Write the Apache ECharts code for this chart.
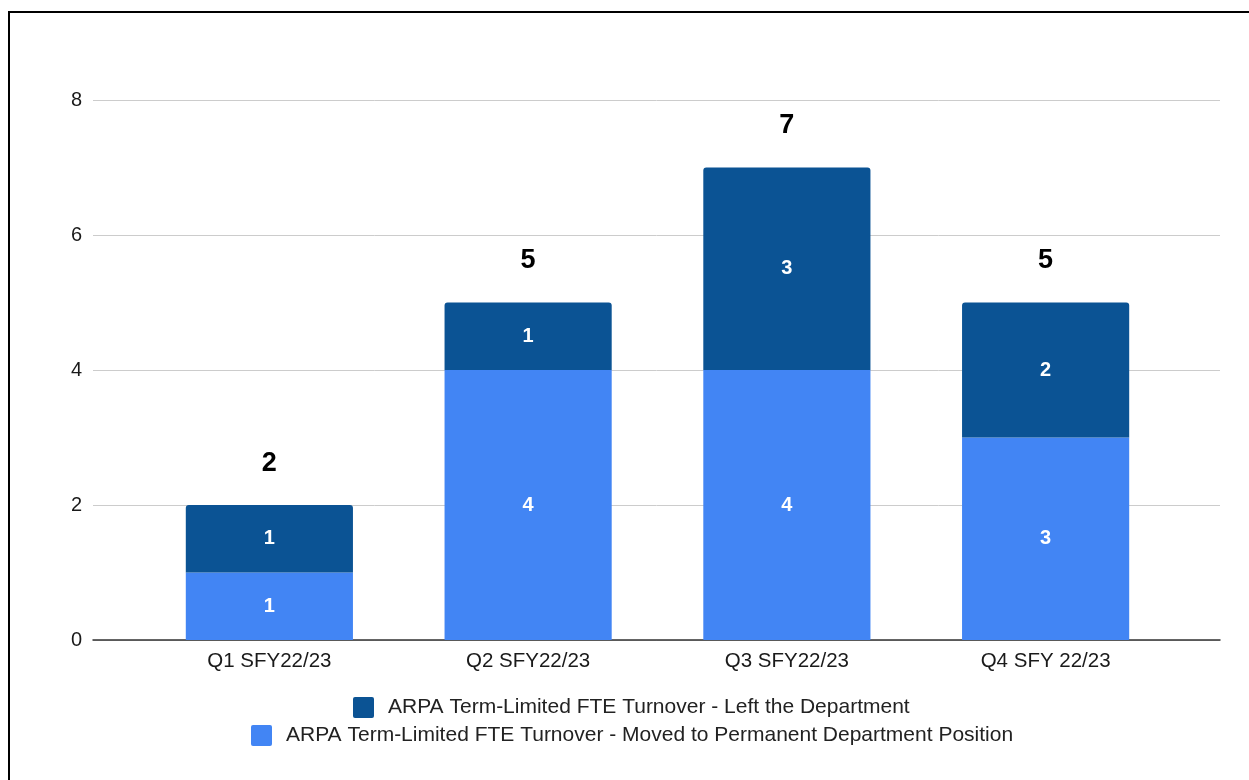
<!DOCTYPE html>
<html>
<head>
<meta charset="utf-8">
<script src="https://cdn.jsdelivr.net/npm/echarts@6/dist/echarts.min.js"></script>
<style>
  html, body { margin: 0; padding: 0; background: #fff; }
  #chart { width: 1249px; height: 780px; }
</style>
</head>
<body>
<div id="chart"></div>
<script>
const categories = ['Q1 SFY22/23', 'Q2 SFY22/23', 'Q3 SFY22/23', 'Q4 SFY 22/23'];
const movedValues = [1, 4, 4, 3];
const leftValues = [1, 1, 3, 2];
const totalLabels = [2, 5, 7, 5];
const yTicks = [0, 2, 4, 6, 8];
const nameLeft = 'ARPA Term-Limited FTE Turnover - Left the Department';
const nameMoved = 'ARPA Term-Limited FTE Turnover - Moved to Permanent Department Position';

const FONT = 'Arial, "Liberation Sans", sans-serif';
const ICON = 'path://M2,0 H19 Q21,0 21,2 V19 Q21,21 19,21 H2 Q0,21 0,19 V2 Q0,0 2,0 Z';
const chart = echarts.init(document.getElementById('chart'), null, { renderer: 'canvas' });

const option = {
  animation: false,
  backgroundColor: '#ffffff',
  graphic: [{
    type: 'rect',
    shape: { x: 9, y: 12, width: 1300, height: 900 },
    style: { fill: 'none', stroke: '#000000', lineWidth: 2 },
    silent: true
  }],
  grid: [
    { left: 93, right: 29, top: 100, bottom: 140 },
    { left: 140, right: 74, top: 100, bottom: 140 }
  ],
  xAxis: [
    {
      gridIndex: 0, type: 'value', min: 0, max: 1,
      axisLine: { show: true, lineStyle: { color: '#333333', width: 1.5 } },
      axisTick: { show: false }, axisLabel: { show: false }, splitLine: { show: false }
    },
    {
      gridIndex: 1, type: 'category', data: categories,
      axisLine: { show: false }, axisTick: { show: false },
      axisLabel: { color: '#1a1a1a', fontFamily: FONT, fontSize: 20.5, margin: 11 }
    }
  ],
  yAxis: [
    {
      gridIndex: 0, type: 'value', min: yTicks[0], max: yTicks[yTicks.length - 1], interval: 2,
      axisLine: { show: false }, axisTick: { show: false },
      axisLabel: { color: '#1a1a1a', fontFamily: FONT, fontSize: 20, margin: 11 },
      splitLine: { show: true, lineStyle: { color: '#cccccc', width: 1 } }
    },
    {
      gridIndex: 1, type: 'value', min: yTicks[0], max: yTicks[yTicks.length - 1], interval: 2,
      show: false, splitLine: { show: false }
    }
  ],
  legend: [
    {
      data: [nameLeft], left: 348, top: 692, itemWidth: 21, itemHeight: 21, icon: ICON,
      textStyle: { color: '#222222', fontFamily: FONT, fontSize: 21, padding: [0, 0, 0, 9] },
      selectedMode: false
    },
    {
      data: [nameMoved], left: 246, top: 720, itemWidth: 21, itemHeight: 21, icon: ICON,
      textStyle: { color: '#222222', fontFamily: FONT, fontSize: 21, padding: [0, 0, 0, 9] },
      selectedMode: false
    }
  ],
  series: [
    {
      name: nameMoved, type: 'bar', stack: 'total', xAxisIndex: 1, yAxisIndex: 1,
      data: movedValues, barWidth: '64.6%',
      itemStyle: { color: '#4285f4' },
      label: { show: true, position: 'inside', color: '#ffffff', fontWeight: 'bold', fontFamily: FONT, fontSize: 20 }
    },
    {
      name: nameLeft, type: 'bar', stack: 'total', xAxisIndex: 1, yAxisIndex: 1,
      data: leftValues, barWidth: '64.6%',
      itemStyle: { color: '#0b5394', borderRadius: [3, 3, 0, 0] },
      label: { show: true, position: 'inside', color: '#ffffff', fontWeight: 'bold', fontFamily: FONT, fontSize: 20 }
    },
    {
      name: 'total', type: 'bar', stack: 'total', xAxisIndex: 1, yAxisIndex: 1,
      data: categories.map(() => 0), barWidth: '64.6%',
      itemStyle: { color: 'transparent' },
      label: {
        show: true, position: 'top', distance: 28, color: '#000000', fontWeight: 'bold',
        fontFamily: FONT, fontSize: 27,
        formatter: (p) => String(totalLabels[p.dataIndex])
      },
      silent: true
    }
  ]
};
chart.setOption(option);
</script>
</body>
</html>
